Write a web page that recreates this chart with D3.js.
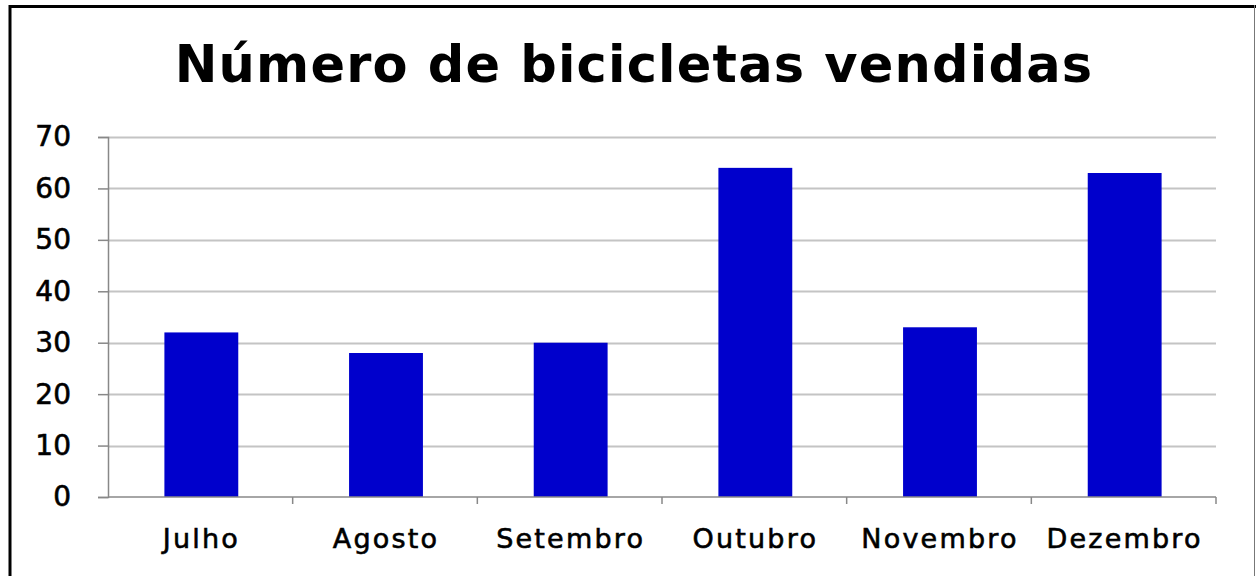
<!DOCTYPE html>
<html>
<head>
<meta charset="utf-8">
<script src="https://cdn.jsdelivr.net/npm/d3@7"></script>
<style>
  body { margin: 0; background: #fff; }
  svg { display: block; }
</style>
</head>
<body>
<svg id="chart"></svg>
<script>
// data
const months = ['Julho', 'Agosto', 'Setembro', 'Outubro', 'Novembro', 'Dezembro'];
const sales = [32, 28, 30, 64, 33, 63];
const yTicks = [0, 10, 20, 30, 40, 50, 60, 70];
const title = 'Número de bicicletas vendidas';

const width = 1256;
const height = 576;
const margin = { top: 137, right: 40, bottom: 79, left: 108 };
const font = "'DejaVu Sans', Verdana, sans-serif";

const svg = d3.select('#chart')
    .attr('width', width)
    .attr('height', height);

// frame
svg.append('line').attr('x1', 10).attr('x2', 10).attr('y1', 5).attr('y2', height)
    .attr('stroke', '#000').attr('stroke-width', 3);
svg.append('line').attr('x1', 9).attr('x2', width).attr('y1', 6.5).attr('y2', 6.5)
    .attr('stroke', '#000').attr('stroke-width', 3);
svg.append('line').attr('x1', width - 1.5).attr('x2', width - 1.5).attr('y1', 5).attr('y2', height)
    .attr('stroke', '#777').attr('stroke-width', 1);

// title
svg.append('text')
    .attr('x', 634)
    .attr('y', 82)
    .attr('text-anchor', 'middle')
    .style('font-family', font)
    .style('font-weight', 'bold')
    .style('font-size', '51px')
    .style('letter-spacing', '1.2px')
    .attr('fill', '#000')
    .text(title);

const x = d3.scaleBand()
    .domain(months)
    .range([margin.left, width - margin.right])
    .paddingInner(0.6)
    .paddingOuter(0.3);

const y = d3.scaleLinear()
    .domain([0, 70])
    .range([height - margin.bottom, margin.top]);

// gridlines
svg.append('g')
    .selectAll('line')
    .data(yTicks.slice(1))
    .enter().append('line')
    .attr('x1', margin.left)
    .attr('x2', width - margin.right)
    .attr('y1', d => Math.round(y(d)) + 0.5)
    .attr('y2', d => Math.round(y(d)) + 0.5)
    .attr('stroke', '#c4c4c4')
    .attr('stroke-width', 2);

// bars
svg.append('g')
    .selectAll('rect')
    .data(sales)
    .enter().append('rect')
    .attr('x', (d, i) => x(months[i]) + 1)
    .attr('width', x.bandwidth())
    .attr('y', d => y(d))
    .attr('height', d => y(0) - y(d))
    .attr('fill', '#0000cc');

// y axis
const yAxis = svg.append('g')
    .attr('transform', `translate(${margin.left},0)`)
    .call(d3.axisLeft(y).tickValues(yTicks).tickSize(10).tickPadding(27));
yAxis.selectAll('path, line').attr('stroke', '#888').attr('stroke-width', 1.5);
yAxis.selectAll('text')
    .style('font-family', font)
    .style('font-size', '28px')
    .attr('fill', '#000')
    .attr('stroke', '#000')
    .attr('stroke-width', 0.6);

// x axis with ticks at category boundaries
const boundaries = d3.range(months.length + 1).map(i => margin.left + i * (width - margin.right - margin.left) / months.length);
const xg = svg.append('g');
xg.append('line')
    .attr('x1', margin.left).attr('x2', width - margin.right)
    .attr('y1', y(0)).attr('y2', y(0))
    .attr('stroke', '#888').attr('stroke-width', 1.5);
xg.selectAll('line.tick')
    .data(boundaries.slice(1))
    .enter().append('line')
    .attr('class', 'tick')
    .attr('x1', d => d).attr('x2', d => d)
    .attr('y1', y(0)).attr('y2', y(0) + 7)
    .attr('stroke', '#888').attr('stroke-width', 1.5);
xg.selectAll('text')
    .data(months)
    .enter().append('text')
    .attr('x', d => x(d) + x.bandwidth() / 2 + 1)
    .attr('y', 548)
    .attr('text-anchor', 'middle')
    .style('font-family', font)
    .style('font-size', '27px')
    .style('letter-spacing', '2.2px')
    .attr('fill', '#000')
    .attr('stroke', '#000')
    .attr('stroke-width', 0.6)
    .text(d => d);
</script>
</body>
</html>
